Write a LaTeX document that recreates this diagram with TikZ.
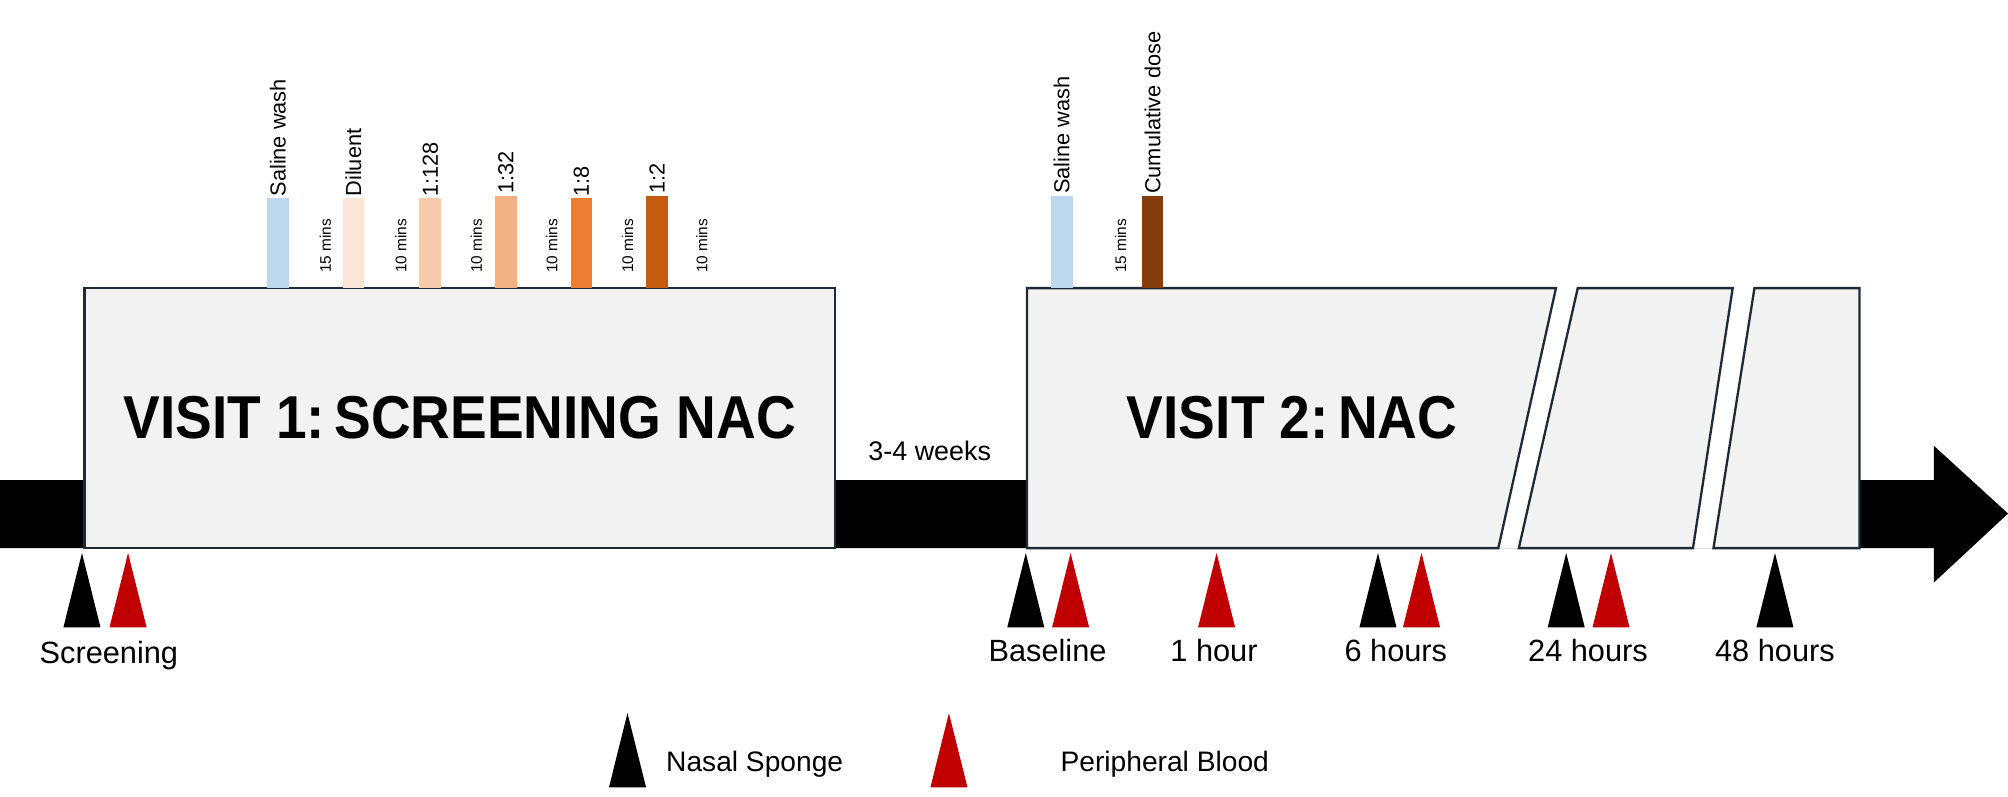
\documentclass[tikz,border=0pt]{standalone}
\usepackage{fontspec}
\setmainfont{Liberation Sans}
\usepackage{graphicx}
\usetikzlibrary{shapes.geometric}
\definecolor{boxfill}{HTML}{F2F2F2}
\definecolor{boxline}{HTML}{1F2A36}
\definecolor{cSal}{HTML}{BDD7EE}
\definecolor{cDil}{HTML}{FBE5D6}
\definecolor{cA}{HTML}{F8CBAD}
\definecolor{cB}{HTML}{F4B183}
\definecolor{cC}{HTML}{ED7D31}
\definecolor{cD}{HTML}{C55A11}
\definecolor{cCum}{HTML}{843C0C}
\definecolor{bred}{HTML}{C00000}
\begin{document}
\begin{tikzpicture}[x=1pt,y=-1pt,
  visit/.style={fill=boxfill,draw=boxline,line width=1.8pt},
  bar/.style={minimum width=17pt,inner sep=0pt,anchor=south},
  blab/.style={rotate=90,anchor=west,font=\fontsize{17}{17}\selectfont,inner sep=1pt},
  mins/.style={rotate=90,font=\fontsize{12}{12}\selectfont,inner sep=0pt},
  lab/.style={font=\fontsize{24}{24}\selectfont,inner sep=0pt},
  tri/.style={draw=none,isosceles triangle,isosceles triangle apex angle=28,shape border rotate=90,minimum height=58pt,inner sep=0pt,anchor=south}]
\useasboundingbox (0,0) rectangle (1568,622);
% timeline arrow
\fill (0,375) -- (1510,375) -- (1510,348) -- (1568,401) -- (1510,455) -- (1510,428) -- (0,428) -- cycle;
% visit 1
\draw[visit] (66,225) rectangle (652,428);
\node (v1) at (359,326) {\resizebox{525pt}{33pt}{\bfseries VISIT 1:\,SCREENING NAC}};
% visit 2 pieces with white breaks
\fill[white] (1215,225) -- (1232,225) -- (1186,428) -- (1170,428) -- cycle;
\fill[white] (1353,225) -- (1370,225) -- (1338,428) -- (1322,428) -- cycle;
\draw[visit] (802,225) -- (1215,225) -- (1170,428) -- (802,428) -- cycle;
\draw[visit] (1232,225) -- (1353,225) -- (1322,428) -- (1186,428) -- cycle;
\draw[visit] (1370,225) -- (1452,225) -- (1452,428) -- (1338,428) -- cycle;
\node (v2) at (1009,326) {\resizebox{258pt}{33pt}{\bfseries VISIT 2:\,NAC}};
\node[lab,font=\fontsize{21}{21}\selectfont] (gap) at (726,352) {3-4 weeks};
% bars visit 1
\node[bar,fill=cSal,minimum height=70pt] (b1) at (217,225) {};
\node[bar,fill=cDil,minimum height=70pt] (b2) at (276,225) {};
\node[bar,fill=cA,minimum height=70pt] (b3) at (336,225) {};
\node[bar,fill=cB,minimum height=72pt] (b4) at (395,225) {};
\node[bar,fill=cC,minimum height=70pt] (b5) at (454,225) {};
\node[bar,fill=cD,minimum height=72pt] (b6) at (513,225) {};
\node[blab] at (b1.north) {Saline wash};
\node[blab] at (b2.north) {Diluent};
\node[blab] at (b3.north) {1:128};
\node[blab] at (b4.north) {1:32};
\node[blab] at (b5.north) {1:8};
\node[blab] at (b6.north) {1:2};
\node[mins] (m1) at (254,192) {15 mins};
\node[mins] (m2) at (313,192) {10 mins};
\node[mins] (m3) at (372,192) {10 mins};
\node[mins] (m4) at (431,192) {10 mins};
\node[mins] (m5) at (490,192) {10 mins};
\node[mins] (m6) at (548,192) {10 mins};
% bars visit 2
\node[bar,fill=cSal,minimum height=72pt] (c1) at (829,225) {};
\node[bar,fill=cCum,minimum height=72pt] (c2) at (900,225) {};
\node[blab] at (c1.north) {Saline wash};
\node[blab] at (c2.north) {Cumulative dose};
\node[mins] (m7) at (875,192) {15 mins};
% triangles
\node[tri,fill=black] (t1) at (64,490) {};
\node[tri,fill=bred] (t2) at (100,490) {};
\node[tri,fill=black] (t3) at (801,490) {};
\node[tri,fill=bred] (t4) at (836,490) {};
\node[tri,fill=bred] (t5) at (950,490) {};
\node[tri,fill=black] (t6) at (1076,490) {};
\node[tri,fill=bred] (t7) at (1110,490) {};
\node[tri,fill=black] (t8) at (1223,490) {};
\node[tri,fill=bred] (t9) at (1258,490) {};
\node[tri,fill=black] (t10) at (1386,490) {};
\node[lab] (l1) at (85,512) {Screening};
\node[lab] (l2) at (818,508) {Baseline};
\node[lab] (l3) at (948,508) {1 hour};
\node[lab] (l4) at (1090,508) {6 hours};
\node[lab] (l5) at (1240,508) {24 hours};
\node[lab] (l6) at (1386,508) {48 hours};
% legend
\node[tri,fill=black] (k1) at (490,615) {};
\node[lab,anchor=west,font=\fontsize{22}{22}\selectfont] (k1t) at (520,597) {Nasal Sponge};
\node[tri,fill=bred] (k2) at (741,615) {};
\node[lab,anchor=west,font=\fontsize{22}{22}\selectfont] (k2t) at (828,597) {Peripheral Blood};
\end{tikzpicture}
\end{document}
